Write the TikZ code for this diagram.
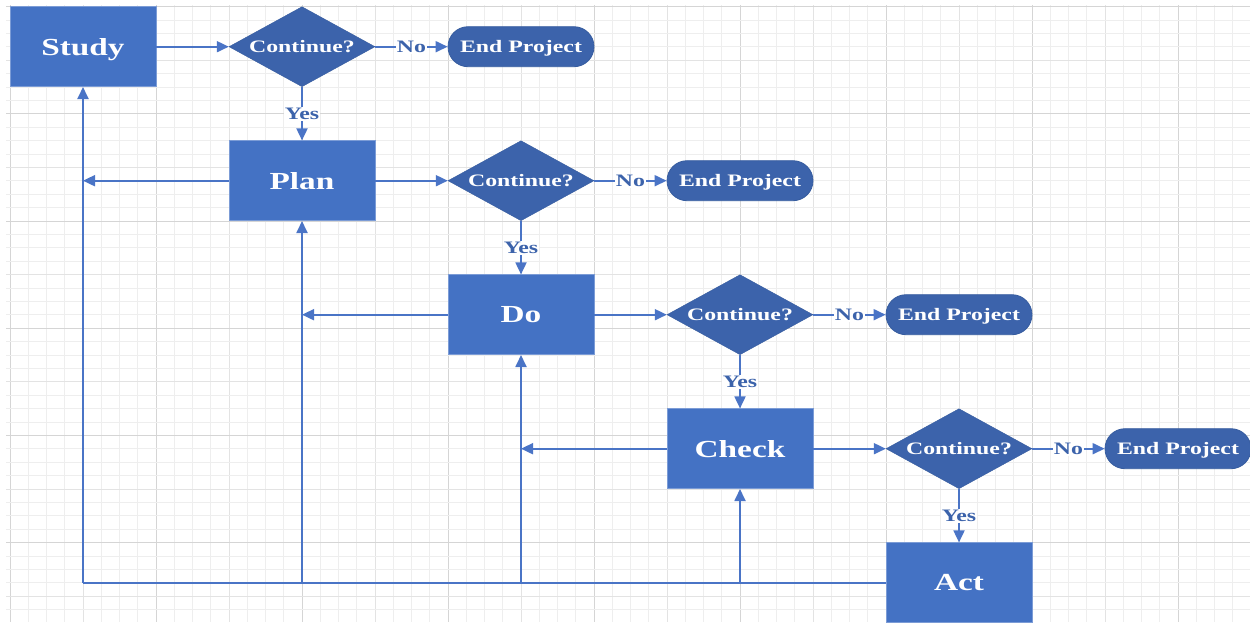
\documentclass[tikz,border=0pt]{standalone}
\usepackage{fontspec}
\usetikzlibrary{shapes.geometric,arrows.meta}
\newfontfamily\chartfont{Liberation Serif}[FakeStretch=1.36]
\definecolor{boxblue}{HTML}{4472C4}
\definecolor{deepblue}{HTML}{3C63AB}
\definecolor{edgeblue}{HTML}{365C9F}
\definecolor{linkblue}{HTML}{4A74C6}
\definecolor{gridminor}{HTML}{EEEEEE}
\definecolor{gridmid}{HTML}{E3E3E3}
\definecolor{gridmajor}{HTML}{D5D5D5}
\tikzset{
  stagebox/.style={rectangle, fill=boxblue, draw=boxblue!70!white, line width=0.6pt,
    minimum width=146pt, minimum height=80pt, inner sep=0pt, text depth=0pt,
    text=white, font=\chartfont\bfseries\fontsize{24.5}{28}\selectfont},
  decision/.style={diamond, aspect=1.825, fill=deepblue, draw=edgeblue, line width=0.4pt,
    minimum width=146pt, minimum height=80pt, inner sep=0pt, text depth=0pt,
    text=white, font=\chartfont\bfseries\fontsize{17.5}{20}\selectfont},
  terminal/.style={rectangle, rounded corners=20pt, fill=deepblue, draw=edgeblue, line width=0.8pt,
    minimum width=146pt, minimum height=40pt, inner sep=0pt, text depth=0pt,
    text=white, font=\chartfont\bfseries\fontsize{17.5}{20}\selectfont},
  link/.style={draw=linkblue, line width=1.8pt, -{Triangle[length=12pt,width=11pt]}},
  plainlink/.style={draw=linkblue, line width=1.8pt},
  answer/.style={fill=white, inner sep=1.2pt, text depth=0pt, text=deepblue,
    font=\chartfont\bfseries\fontsize{17.5}{20}\selectfont},
}
\begin{document}
\begin{tikzpicture}[x=1pt,y=-1pt]
\useasboundingbox (0,0) rectangle (1250,622);
\clip (0,0) rectangle (1250,622);
\fill[white] (0,0) rectangle (1250,622);
% background grid: minor every cell, darker every 4 and 8 cells
\foreach \k in {0,...,67}{
  \pgfmathtruncatemacro{\ma}{mod(\k,8)}
  \pgfmathtruncatemacro{\mb}{mod(\k,4)}
  \ifnum\ma=0 \def\gc{gridmajor}\else\ifnum\mb=0 \def\gc{gridmid}\else\def\gc{gridminor}\fi\fi
  \draw[\gc, line width=1pt] ({10+\k*18.25},5) -- ({10+\k*18.25},622);
}
\foreach \k in {0,...,45}{
  \pgfmathtruncatemacro{\ma}{mod(\k,8)}
  \pgfmathtruncatemacro{\mb}{mod(\k,4)}
  \ifnum\ma=0 \def\gc{gridmajor}\else\ifnum\mb=0 \def\gc{gridmid}\else\def\gc{gridminor}\fi\fi
  \draw[\gc, line width=1pt] (6,{6.7+\k*13.4}) -- (1250,{6.7+\k*13.4});
}
% stages
\node[stagebox] (study) at (83,46.7) {Study};
\node[decision] (c1) at (302,46.7) {Continue?};
\node[terminal] (e1) at (521,46.7) {End Project};
\node[stagebox] (plan) at (302,180.7) {Plan};
\node[decision] (c2) at (521,180.7) {Continue?};
\node[terminal] (e2) at (740,180.7) {End Project};
\node[stagebox] (do) at (521,314.7) {Do};
\node[decision] (c3) at (740,314.7) {Continue?};
\node[terminal] (e3) at (959,314.7) {End Project};
\node[stagebox] (check) at (740,448.7) {Check};
\node[decision] (c4) at (959,448.7) {Continue?};
\node[terminal] (e4) at (1178,448.7) {End Project};
\node[stagebox] (act) at (959,582.7) {Act};
% forward flow
\draw[link] (study) -- (c1);
\draw[link] (plan) -- (c2);
\draw[link] (do) -- (c3);
\draw[link] (check) -- (c4);
\foreach \d/\e in {c1/e1,c2/e2,c3/e3,c4/e4}{
  \draw[link] (\d) -- node[answer] {No} (\e);
}
\foreach \d/\s in {c1/plan,c2/do,c3/check,c4/act}{
  \draw[link] (\d) -- node[answer] {Yes} (\s);
}
% feedback loops
\draw[link] (plan.west) -- (plan.west -| study);
\draw[link] (do.west) -- (do.west -| plan);
\draw[link] (check.west) -- (check.west -| do);
\draw[plainlink] (act.west) -- (act.west -| study);
\draw[link] (act.west -| study) -- (study.south);
\draw[link] (act.west -| plan) -- (plan.south);
\draw[link] (act.west -| do) -- (do.south);
\draw[link] (act.west -| check) -- (check.south);
\end{tikzpicture}
\end{document}
